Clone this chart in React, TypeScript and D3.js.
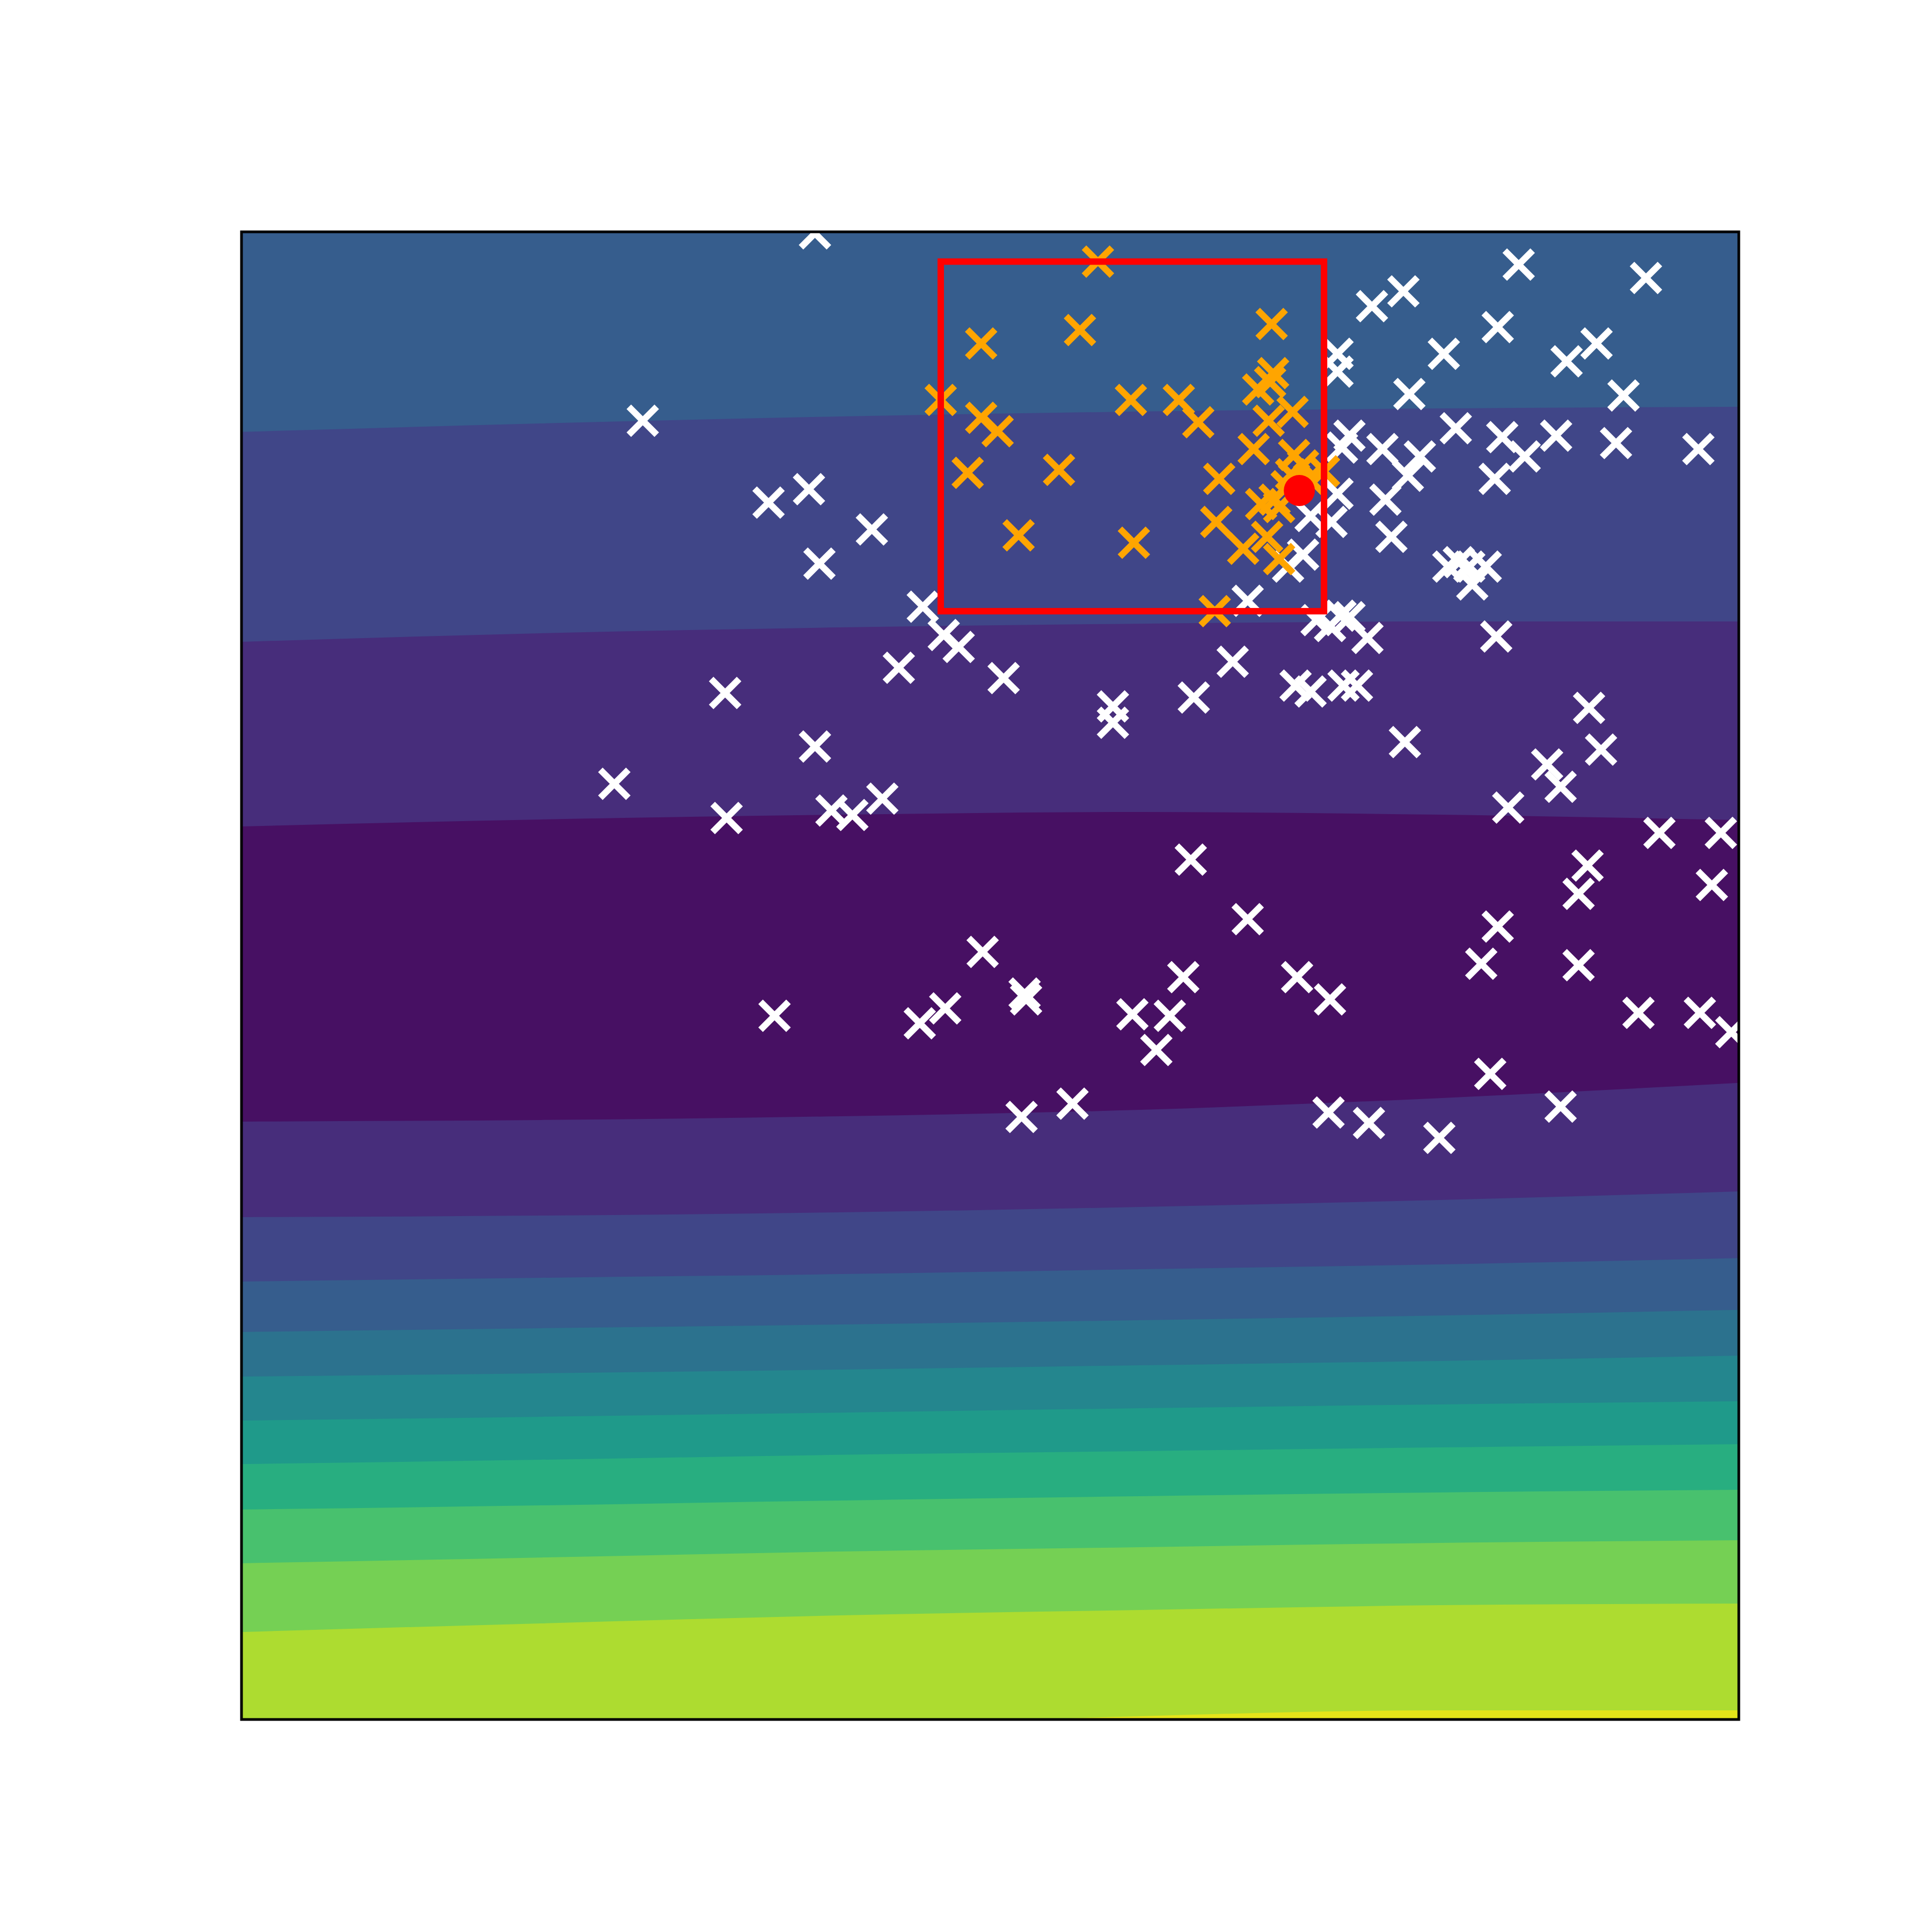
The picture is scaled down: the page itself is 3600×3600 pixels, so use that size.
import React, { useEffect, useRef } from 'react'
import * as d3 from 'd3'

// x positions where the contour lines were read
const stationX = [0, 0.2, 0.4, 0.6, 0.8, 1]

// contour lines, top to bottom (y value at each station)
const levelLines = [
  [0.8655, 0.8712, 0.8759, 0.8792, 0.8813, 0.8824],
  [0.7244, 0.7302, 0.7341, 0.7366, 0.7381, 0.7381],
  [0.6003, 0.605, 0.6082, 0.61, 0.6082, 0.6046],
  [0.4019, 0.403, 0.4055, 0.4098, 0.4177, 0.4279],
  [0.3377, 0.3387, 0.3409, 0.3445, 0.3492, 0.355],
  [0.2944, 0.2969, 0.2994, 0.3027, 0.3059, 0.3102],
  [0.2605, 0.263, 0.2655, 0.2684, 0.2716, 0.2753],
  [0.2305, 0.2327, 0.2352, 0.2381, 0.241, 0.2446],
  [0.2009, 0.2035, 0.2063, 0.2092, 0.2118, 0.2139],
  [0.1717, 0.1746, 0.1779, 0.1804, 0.1829, 0.1851],
  [0.1411, 0.1439, 0.1472, 0.1501, 0.1526, 0.1544],
  [0.105, 0.1089, 0.1129, 0.1158, 0.1187, 0.1205],
  [0.0588, 0.0646, 0.07, 0.0736, 0.0768, 0.0779],
  [-0.0209, -0.013, -0.0051, 0.0022, 0.0061, 0.0061],
]

// level index of each band, from the top band down (12 levels in all)
const bandLevels = [3, 2, 1, 0, 1, 2, 3, 4, 5, 6, 7, 8, 9, 10, 11]
const nLevels = 12

// all evaluated points
const sampledPoints: [number, number][] = [
  [0.383, 0.999], [0.268, 0.873], [0.352, 0.818], [0.379, 0.827], [0.421, 0.8],
  [0.386, 0.777], [0.455, 0.748], [0.469, 0.729], [0.479, 0.721], [0.439, 0.707],
  [0.509, 0.7], [0.323, 0.69], [0.383, 0.654], [0.249, 0.629], [0.324, 0.606],
  [0.394, 0.611], [0.408, 0.608], [0.428, 0.619], [0.582, 0.681], [0.582, 0.67],
  [0.636, 0.687], [0.662, 0.711], [0.672, 0.752], [0.704, 0.695], [0.714, 0.691],
  [0.736, 0.695], [0.745, 0.695], [0.777, 0.657], [0.718, 0.739], [0.727, 0.735],
  [0.734, 0.742], [0.74, 0.741], [0.752, 0.727], [0.709, 0.783], [0.699, 0.775],
  [0.728, 0.805], [0.714, 0.809], [0.732, 0.824], [0.768, 0.795], [0.764, 0.82],
  [0.762, 0.854], [0.735, 0.855], [0.74, 0.863], [0.779, 0.836], [0.787, 0.849],
  [0.78, 0.891], [0.732, 0.918], [0.732, 0.906], [0.755, 0.95], [0.776, 0.96],
  [0.803, 0.918], [0.811, 0.868], [0.839, 0.936], [0.853, 0.978], [0.842, 0.862],
  [0.837, 0.834], [0.857, 0.849], [0.878, 0.863], [0.885, 0.913], [0.905, 0.925],
  [0.923, 0.89], [0.918, 0.858], [0.938, 0.969], [0.973, 0.854], [0.806, 0.775],
  [0.813, 0.778], [0.82, 0.775], [0.831, 0.775], [0.822, 0.763], [0.838, 0.728],
  [0.9, 0.68], [0.908, 0.652], [0.872, 0.642], [0.881, 0.627], [0.846, 0.613],
  [0.947, 0.596], [0.988, 0.596], [0.982, 0.561], [0.899, 0.574], [0.893, 0.555],
  [0.839, 0.533], [0.828, 0.508], [0.893, 0.507], [0.933, 0.475], [0.974, 0.475],
  [0.995, 0.462], [0.834, 0.434], [0.881, 0.412], [0.8, 0.391], [0.753, 0.401],
  [0.726, 0.408], [0.727, 0.484], [0.705, 0.499], [0.672, 0.538], [0.634, 0.578],
  [0.629, 0.499], [0.62, 0.473], [0.595, 0.474], [0.611, 0.45], [0.555, 0.414],
  [0.521, 0.405], [0.523, 0.488], [0.524, 0.484], [0.495, 0.516], [0.47, 0.478],
  [0.453, 0.468], [0.356, 0.473],
]

// points of the current trust region
const regionPoints: [number, number][] = [
  [0.572, 0.98], [0.494, 0.925], [0.56, 0.934], [0.688, 0.938], [0.467, 0.887],
  [0.494, 0.875], [0.505, 0.866], [0.594, 0.887], [0.626, 0.887], [0.639, 0.872],
  [0.689, 0.905], [0.687, 0.899], [0.679, 0.894], [0.702, 0.879], [0.686, 0.873],
  [0.676, 0.854], [0.485, 0.838], [0.546, 0.84], [0.653, 0.834], [0.703, 0.85],
  [0.709, 0.843], [0.701, 0.837], [0.723, 0.839], [0.713, 0.834], [0.698, 0.829],
  [0.69, 0.82], [0.681, 0.817], [0.693, 0.815], [0.519, 0.796], [0.596, 0.791],
  [0.651, 0.805], [0.669, 0.787], [0.685, 0.795], [0.693, 0.78], [0.65, 0.745],
]

const bestPoint: [number, number] = [0.7065, 0.8261]

function App() {
  const svgRef = useRef<SVGSVGElement>(null)

  useEffect(() => {
    const width = 3600
    const height = 3600
    const left = 450
    const right = 3240
    const top = 432
    const bottom = 3204

    const svg = d3.select(svgRef.current)
    svg.selectAll('*').remove()
    svg.attr('width', width).attr('height', height)

    const x = d3.scaleLinear().domain([0, 1]).range([left, right])
    const y = d3.scaleLinear().domain([0, 1]).range([bottom, top])
    const color = (k: number) => d3.interpolateViridis((k + 0.5) / nLevels)

    svg.append('rect').attr('width', width).attr('height', height).attr('fill', '#ffffff')

    svg.append('defs').append('clipPath').attr('id', 'plot-clip')
      .append('rect')
      .attr('x', left).attr('y', top)
      .attr('width', right - left).attr('height', bottom - top)

    const g = svg.append('g').attr('clip-path', 'url(#plot-clip)')

    // filled contour bands, painted top to bottom
    g.append('rect')
      .attr('x', left).attr('y', top)
      .attr('width', right - left).attr('height', bottom - top)
      .attr('fill', color(bandLevels[0]))

    const area = d3.area<number>()
      .x((_, j) => x(stationX[j]))
      .y0(y(-0.2))
      .y1((d) => y(d))
      .curve(d3.curveMonotoneX)

    levelLines.forEach((line, i) => {
      g.append('path').datum(line).attr('d', area).attr('fill', color(bandLevels[i + 1]))
    })

    const h = 26
    const cross = `M${-h},${-h}L${h},${h}M${-h},${h}L${h},${-h}`

    g.selectAll('path.sample')
      .data(sampledPoints)
      .join('path')
      .attr('class', 'sample')
      .attr('d', cross)
      .attr('transform', (d) => `translate(${x(d[0])},${y(d[1])})`)
      .style('fill', 'none')
      .style('stroke', '#ffffff')
      .style('stroke-width', 12)

    g.selectAll('path.region')
      .data(regionPoints)
      .join('path')
      .attr('class', 'region')
      .attr('d', cross)
      .attr('transform', (d) => `translate(${x(d[0])},${y(d[1])})`)
      .style('fill', 'none')
      .style('stroke', '#ffa500')
      .style('stroke-width', 12)

    // trust region box = bounding box of its points
    const [rx0, rx1] = d3.extent(regionPoints, (d) => d[0]) as [number, number]
    const [ry0, ry1] = d3.extent(regionPoints, (d) => d[1]) as [number, number]
    g.append('rect')
      .attr('x', x(rx0)).attr('y', y(ry1))
      .attr('width', x(rx1) - x(rx0)).attr('height', y(ry0) - y(ry1))
      .style('fill', 'none')
      .style('stroke', '#ff0000')
      .style('stroke-width', 12)

    g.append('circle')
      .attr('cx', x(bestPoint[0])).attr('cy', y(bestPoint[1]))
      .attr('r', 29)
      .style('fill', '#ff0000')

    // axes frame, no ticks
    svg.append('rect')
      .attr('x', left).attr('y', top)
      .attr('width', right - left).attr('height', bottom - top)
      .style('fill', 'none')
      .style('stroke', '#000000')
      .style('stroke-width', 5)
  }, [])

  return (
    <svg ref={svgRef} style={{ position: 'absolute', left: 0, top: 0, display: 'block' }}></svg>
  )
}

export default App
